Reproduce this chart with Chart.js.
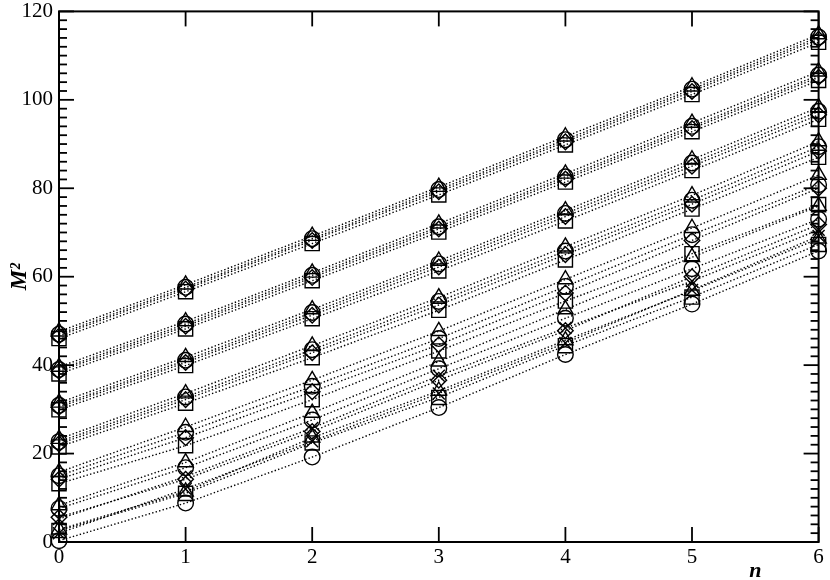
<!DOCTYPE html>
<html><head><meta charset="utf-8">
<script src="https://cdn.jsdelivr.net/npm/chart.js@4"></script>
<style>html,body{margin:0;padding:0;background:#fff}#wrap{width:830px;height:580px;position:relative}</style>
</head><body><div id="wrap"><canvas id="c" width="830" height="580"></canvas></div>
<script>
// ---- data ----
const nValues = [0, 1, 2, 3, 4, 5, 6];
const xTicks = [0, 1, 2, 3, 4, 5, 6];
const yTicks = [0, 20, 40, 60, 80, 100, 120];

const A_tri = [47.6, 58.2, 69.2, 80.3, 91.7, 103.0, 114.8];
const A_cir = [47.0, 57.6, 68.6, 79.7, 91.0, 102.4, 114.2];
const A_dia = [46.6, 57.2, 68.2, 79.2, 90.5, 101.9, 113.7];
const A_sqr = [46.0, 56.6, 67.5, 78.5, 89.8, 101.2, 113.0];

const B_tri = [39.6, 49.9, 60.9, 72.0, 83.3, 94.8, 106.4];
const B_cir = [39.0, 49.3, 60.3, 71.3, 82.6, 94.0, 105.6];
const B_dia = [38.6, 48.8, 59.8, 70.8, 82.1, 93.5, 105.1];
const B_sqr = [38.0, 48.2, 59.1, 70.1, 81.4, 92.8, 104.4];

const C_tri = [31.5, 41.8, 52.6, 63.6, 75.0, 86.5, 98.3];
const C_cir = [30.9, 41.1, 51.9, 62.9, 74.3, 85.7, 97.4];
const C_dia = [30.5, 40.6, 51.3, 62.2, 73.6, 85.0, 96.6];
const C_sqr = [29.9, 39.9, 50.5, 61.3, 72.6, 84.0, 95.6];

const D_tri = [23.3, 33.6, 44.4, 55.3, 66.8, 78.4, 90.6];
const D_cir = [22.7, 32.8, 43.5, 54.4, 65.8, 77.3, 89.4];
const D_dia = [22.2, 32.2, 42.8, 53.6, 65.0, 76.4, 88.4];
const D_sqr = [21.5, 31.4, 41.7, 52.4, 63.8, 75.3, 87.0];

const E_tri = [15.8, 26.0, 36.6, 47.7, 59.4, 71.0, 83.0];
const E_cir = [15.0, 24.8, 35.2, 46.0, 57.8, 69.5, 80.8];
const E_dia = [14.2, 23.6, 34.0, 44.6, 56.3, 68.2, 80.0];
const E_sqr = [13.2, 21.8, 32.2, 43.2, 54.5, 65.2, 76.3];

const F_tri = [8.3, 18.0, 29.2, 40.8, 52.6, 64.4, 76.0];
const F_cir = [7.6, 16.8, 27.6, 39.2, 50.6, 61.8, 73.0];
const F_crs = [5.2, 14.8, 25.8, 37.6, 48.4, 59.0, 70.6];
const F_dia = [5.6, 14.2, 25.0, 36.6, 47.8, 60.0, 71.8];

const G_tri = [2.8, 11.4, 23.6, 34.2, 45.6, 56.8, 68.6];
const G_sqr = [2.6, 11.0, 22.4, 32.7, 44.4, 55.4, 67.3];
const G_crs = [2.0, 12.0, 22.8, 33.6, 45.0, 57.0, 69.2];
const G_cir = [0.3, 8.8, 19.2, 30.4, 42.4, 53.8, 65.8];

const seriesList = [A_tri, A_cir, A_dia, A_sqr, B_tri, B_cir, B_dia, B_sqr,
  C_tri, C_cir, C_dia, C_sqr, D_tri, D_cir, D_dia, D_sqr,
  E_tri, E_cir, E_dia, E_sqr, F_tri, F_cir, F_crs, F_dia,
  G_tri, G_sqr, G_crs, G_cir];

// ---- styles ----
const shapeOf = ['triangle','circle','rectRot','rect','triangle','circle','rectRot','rect',
  'triangle','circle','rectRot','rect','triangle','circle','rectRot','rect',
  'triangle','circle','rectRot','rect','triangle','circle','crossRot','rectRot',
  'triangle','rect','crossRot','circle'];
const radiusOf = {circle: 7.8, rect: 10, triangle: 8.8, rectRot: 7.8, crossRot: 8.5};
const FONT = '"Liberation Serif", "Times New Roman", serif';

const datasets = seriesList.map((vals, i) => ({
  data: nValues.map((n, k) => ({x: n, y: vals[k]})),
  showLine: true,
  borderColor: '#000',
  borderWidth: 1.4,
  borderDash: [1.4, 2.2],
  pointStyle: shapeOf[i],
  pointRadius: radiusOf[shapeOf[i]],
  pointBorderColor: '#000',
  pointBorderWidth: 1.4,
  pointBackgroundColor: 'rgba(0,0,0,0)',
  pointHoverRadius: radiusOf[shapeOf[i]],
  clip: false
}));

const frame = {
  id: 'frame',
  beforeDatasetsDraw(chart) {
    const {ctx, chartArea: a, scales: {x, y}} = chart;
    ctx.save();
    ctx.strokeStyle = '#000';
    ctx.lineWidth = 2;
    ctx.strokeRect(a.left, a.top, a.right - a.left, a.bottom - a.top);
    const seg = (x0, y0, x1, y1) => { ctx.beginPath(); ctx.moveTo(x0, y0); ctx.lineTo(x1, y1); ctx.stroke(); };
    ctx.lineWidth = 1.8;
    xTicks.forEach(v => {
      const px = x.getPixelForValue(v);
      seg(px, a.bottom, px, a.bottom - 15);
      seg(px, a.top, px, a.top + 15);
    });
    yTicks.forEach(v => {
      const py = y.getPixelForValue(v);
      seg(a.left, py, a.left + 15, py);
      seg(a.right, py, a.right - 15, py);
    });
    for (let i = 0; i < yTicks.length - 1; i++) {
      const v0 = yTicks[i], v1 = yTicks[i + 1];
      for (let k = 1; k < 10; k++) {
        const py = y.getPixelForValue(v0 + (v1 - v0) * k / 10);
        seg(a.left, py, a.left + 8, py);
        seg(a.right, py, a.right - 8, py);
      }
    }
    ctx.restore();
  },
  afterDraw(chart) {
    const {ctx, scales: {x}} = chart;
    ctx.save();
    ctx.fillStyle = '#000';
    ctx.font = 'italic bold 22px ' + FONT;
    ctx.textAlign = 'center';
    ctx.textBaseline = 'alphabetic';
    ctx.fillText('n', x.getPixelForValue(5.5), chart.height - 3);
    ctx.restore();
  }
};

new Chart(document.getElementById('c'), {
  type: 'scatter',
  data: {datasets},
  options: {
    responsive: false,
    animation: false,
    devicePixelRatio: 1,
    layout: {padding: {top: 7, right: 8, left: 0, bottom: 0}},
    plugins: {legend: {display: false}, tooltip: {enabled: false}},
    scales: {
      x: {
        type: 'linear', min: 0, max: 6,
        afterBuildTicks: s => { s.ticks = xTicks.map(v => ({value: v})); },
        afterFit: s => { s.height = 38; s.paddingLeft = 0; s.paddingRight = 0; },
        grid: {display: false, drawTicks: false},
        border: {display: false},
        ticks: {color: '#000', padding: 3, font: {family: FONT, size: 21}}
      },
      y: {
        type: 'linear', min: 0, max: 120,
        afterBuildTicks: s => { s.ticks = yTicks.map(v => ({value: v})); },
        afterFit: s => { s.width = 59; s.paddingTop = 0; s.paddingBottom = 0; },
        grid: {display: false, drawTicks: false},
        border: {display: false},
        title: {display: true, text: 'M²', color: '#000', padding: {top: 6, bottom: 0},
          font: {family: FONT, size: 23, style: 'italic', weight: 'bold'}},
        ticks: {color: '#000', padding: 6, font: {family: FONT, size: 21}}
      }
    }
  },
  plugins: [frame]
});
</script></body></html>
